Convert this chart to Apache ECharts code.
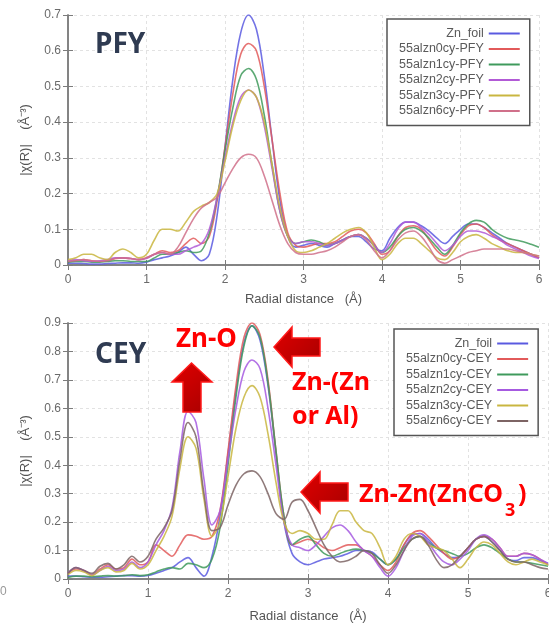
<!DOCTYPE html>
<html>
<head>
<meta charset="utf-8">
<title>Zn K-edge FT-EXAFS PFY / CEY</title>
<script src="https://cdn.jsdelivr.net/npm/echarts@6.0.0/dist/echarts.min.js"></script>
<style>
  html, body { margin: 0; padding: 0; background: #fff; }
  #chart { width: 549px; height: 628px; }
</style>
</head>
<body>
<div id="chart"></div>
<script>
// x grid, Radial distance (Å)
var radialDistance = [
  0.0, 0.1, 0.2, 0.3, 0.4, 0.5, 0.6, 0.7, 0.8, 0.9,
  1.0, 1.1, 1.2, 1.3, 1.4, 1.5, 1.6, 1.7, 1.8, 1.9,
  2.0, 2.1, 2.2, 2.3, 2.4, 2.5, 2.6, 2.7, 2.8, 2.9,
  3.0, 3.1, 3.2, 3.3, 3.4, 3.5, 3.6, 3.7, 3.8, 3.9,
  4.0, 4.1, 4.2, 4.3, 4.4, 4.5, 4.6, 4.7, 4.8, 4.9,
  5.0, 5.1, 5.2, 5.3, 5.4, 5.5, 5.6, 5.7, 5.8, 5.9,
  6.0
];

// PFY panel |χ(R)|
var pfyZnFoil = [
  0.005, 0.005, 0.004, 0.003, 0.003, 0.004, 0.005, 0.006, 0.006, 0.005,
  0.008, 0.015, 0.02, 0.025, 0.035, 0.05, 0.03, 0.012, 0.03, 0.14,
  0.33, 0.52, 0.65, 0.70, 0.66, 0.53, 0.35, 0.18, 0.08, 0.05,
  0.055, 0.06, 0.055, 0.05, 0.06, 0.07, 0.08, 0.08, 0.065, 0.045,
  0.04, 0.075, 0.105, 0.12, 0.12, 0.11, 0.095, 0.075, 0.06, 0.08,
  0.1, 0.115, 0.115, 0.105, 0.09, 0.075, 0.06, 0.05, 0.04, 0.03,
  0.02
];
var pfy0cy = [
  0.01, 0.012, 0.015, 0.012, 0.01, 0.012, 0.018, 0.02, 0.018, 0.015,
  0.02, 0.03, 0.04, 0.035, 0.04, 0.06, 0.075, 0.06, 0.08, 0.18,
  0.33, 0.48, 0.59, 0.62, 0.60, 0.50, 0.35, 0.20, 0.09, 0.055,
  0.05, 0.055, 0.06, 0.06, 0.065, 0.08, 0.095, 0.10, 0.09, 0.06,
  0.03, 0.04, 0.08, 0.105, 0.11, 0.10, 0.07, 0.04, 0.025, 0.05,
  0.085, 0.11, 0.115, 0.105, 0.085, 0.07, 0.06, 0.05, 0.04, 0.03,
  0.02
];
var pfy1cy = [
  0.008, 0.01, 0.01, 0.008, 0.008, 0.01, 0.012, 0.012, 0.01, 0.01,
  0.01, 0.02, 0.03, 0.03, 0.035, 0.04, 0.035, 0.04, 0.09, 0.19,
  0.32, 0.44, 0.53, 0.55, 0.52, 0.42, 0.28, 0.15, 0.08, 0.06,
  0.065, 0.07, 0.065, 0.055, 0.06, 0.07, 0.08, 0.085, 0.075, 0.055,
  0.035, 0.05, 0.08, 0.10, 0.105, 0.095, 0.075, 0.05, 0.03, 0.055,
  0.09, 0.115, 0.125, 0.12, 0.10, 0.085, 0.075, 0.07, 0.065, 0.058,
  0.05
];
var pfy2cy = [
  0.012, 0.015, 0.012, 0.01, 0.012, 0.015, 0.02, 0.02, 0.018, 0.015,
  0.018, 0.03, 0.035, 0.03, 0.03, 0.04, 0.05, 0.06, 0.10, 0.19,
  0.30, 0.40, 0.47, 0.49, 0.47, 0.39, 0.27, 0.15, 0.08, 0.06,
  0.065, 0.065, 0.06, 0.055, 0.06, 0.07, 0.08, 0.085, 0.075, 0.055,
  0.035, 0.06, 0.10, 0.12, 0.12, 0.105, 0.085, 0.06, 0.04, 0.055,
  0.08, 0.095, 0.095, 0.09, 0.08, 0.07, 0.055, 0.045, 0.035, 0.025,
  0.018
];
var pfy3cy = [
  0.015, 0.02, 0.03, 0.03, 0.02, 0.015, 0.035, 0.045, 0.035, 0.02,
  0.03, 0.07, 0.10, 0.10, 0.095, 0.12, 0.15, 0.165, 0.175, 0.20,
  0.29, 0.39, 0.46, 0.49, 0.47, 0.40, 0.28, 0.16, 0.08, 0.04,
  0.035, 0.04, 0.05, 0.06, 0.075, 0.09, 0.10, 0.105, 0.09, 0.05,
  0.015, 0.03, 0.06, 0.075, 0.075, 0.06, 0.04, 0.02, 0.015, 0.035,
  0.065, 0.08, 0.085, 0.075, 0.06, 0.05, 0.04, 0.035, 0.035, 0.03,
  0.025
];
var pfy6cy = [
  0.01, 0.012, 0.015, 0.012, 0.01, 0.012, 0.018, 0.02, 0.018, 0.015,
  0.02, 0.03, 0.035, 0.03, 0.05, 0.09, 0.13, 0.16, 0.175, 0.19,
  0.23, 0.27, 0.30, 0.31, 0.30, 0.25, 0.18, 0.11, 0.06, 0.035,
  0.03, 0.03, 0.035, 0.04, 0.05, 0.065, 0.08, 0.085, 0.07, 0.04,
  0.02, 0.04, 0.07, 0.09, 0.095, 0.08, 0.05, 0.015, 0.005, 0.015,
  0.025, 0.035, 0.04, 0.045, 0.045, 0.045, 0.045, 0.04, 0.035, 0.03,
  0.025
];

// CEY panel |χ(R)|
var ceyZnFoil = [
  0.01, 0.01, 0.008, 0.006, 0.006, 0.008, 0.01, 0.012, 0.012, 0.01,
  0.012, 0.02, 0.03, 0.04, 0.06, 0.075, 0.04, 0.01, 0.08, 0.22,
  0.44, 0.66, 0.83, 0.89, 0.84, 0.68, 0.44, 0.20, 0.09, 0.06,
  0.05, 0.06, 0.07, 0.075, 0.08, 0.09, 0.10, 0.10, 0.095, 0.07,
  0.05, 0.07, 0.12, 0.155, 0.16, 0.14, 0.11, 0.09, 0.075, 0.08,
  0.11, 0.14, 0.15, 0.13, 0.10, 0.07, 0.065, 0.075, 0.075, 0.065,
  0.055
];
var cey0cy = [
  0.02, 0.035, 0.03, 0.015, 0.035, 0.05, 0.035, 0.04, 0.07, 0.05,
  0.06, 0.12, 0.10, 0.08, 0.12, 0.155, 0.15, 0.14, 0.15, 0.24,
  0.45, 0.68, 0.85, 0.90, 0.86, 0.70, 0.45, 0.22, 0.12, 0.13,
  0.14, 0.13, 0.11, 0.10, 0.11, 0.12, 0.12, 0.10, 0.08, 0.05,
  0.03, 0.06, 0.12, 0.16, 0.17, 0.15, 0.12, 0.09, 0.07, 0.08,
  0.11, 0.14, 0.15, 0.14, 0.11, 0.08, 0.08, 0.09, 0.085, 0.07,
  0.05
];
var cey1cy = [
  0.005, 0.01, 0.01, 0.008, 0.01, 0.012, 0.01, 0.012, 0.015, 0.012,
  0.015, 0.025, 0.035, 0.04, 0.035, 0.055, 0.05, 0.04, 0.07, 0.18,
  0.40, 0.64, 0.82, 0.89, 0.85, 0.69, 0.45, 0.22, 0.12, 0.14,
  0.15, 0.12, 0.09, 0.08, 0.09, 0.10, 0.105, 0.10, 0.09, 0.07,
  0.05, 0.07, 0.11, 0.14, 0.15, 0.13, 0.11, 0.10, 0.09, 0.08,
  0.09, 0.11, 0.12, 0.11, 0.09, 0.07, 0.06, 0.06, 0.055, 0.05,
  0.045
];
var cey2cy = [
  0.02, 0.04, 0.03, 0.015, 0.03, 0.045, 0.03, 0.035, 0.06, 0.04,
  0.06, 0.12, 0.17, 0.25, 0.45, 0.59, 0.55, 0.35, 0.19, 0.24,
  0.42, 0.60, 0.73, 0.77, 0.74, 0.60, 0.40, 0.20, 0.12, 0.11,
  0.10, 0.12, 0.15, 0.18, 0.19, 0.17, 0.13, 0.10, 0.08, 0.04,
  0.01, 0.04, 0.10, 0.15, 0.16, 0.13, 0.09, 0.06, 0.05, 0.07,
  0.10, 0.14, 0.155, 0.14, 0.11, 0.08, 0.08, 0.09, 0.085, 0.07,
  0.055
];
var cey3cy = [
  0.015, 0.03, 0.025, 0.012, 0.03, 0.04, 0.025, 0.03, 0.055, 0.035,
  0.05, 0.10, 0.15, 0.22, 0.39, 0.50, 0.46, 0.28, 0.15, 0.20,
  0.36, 0.53, 0.64, 0.68, 0.64, 0.51, 0.34, 0.20, 0.16, 0.17,
  0.16, 0.14, 0.14, 0.19, 0.24, 0.24, 0.20, 0.17, 0.16, 0.11,
  0.05, 0.08, 0.14, 0.16, 0.15, 0.12, 0.11, 0.10, 0.07, 0.04,
  0.07, 0.11, 0.13, 0.12, 0.09, 0.06, 0.05, 0.06, 0.07, 0.06,
  0.05
];
var cey6cy = [
  0.02, 0.04, 0.03, 0.02, 0.045, 0.055, 0.035, 0.05, 0.08, 0.06,
  0.08, 0.14, 0.18, 0.24, 0.42, 0.55, 0.50, 0.30, 0.17, 0.18,
  0.26, 0.33, 0.37, 0.38, 0.36, 0.30, 0.23, 0.21, 0.27, 0.28,
  0.24, 0.18, 0.12, 0.08, 0.06, 0.065, 0.08, 0.10, 0.09, 0.05,
  0.02, 0.05, 0.10, 0.14, 0.15, 0.12, 0.07, 0.04, 0.05, 0.08,
  0.11, 0.14, 0.15, 0.13, 0.10, 0.07, 0.06, 0.06, 0.05, 0.04,
  0.035
];

var pfyNames = ['Zn_foil', '55alzn0cy-PFY', '55alzn1cy-PFY', '55alzn2cy-PFY', '55alzn3cy-PFY', '55alzn6cy-PFY'];
var ceyNames = ['Zn_foil', '55alzn0cy-CEY', '55alzn1cy-CEY', '55alzn2cy-CEY', '55alzn3cy-CEY', '55alzn6cy-CEY'];

var pfyColors = ['#5a5ae0', '#e25a5a', '#3f9a5c', '#b25ad6', '#c9b640', '#d0708a'];
var ceyColors = ['#5a5ae0', '#e25a5a', '#3f9a5c', '#a65ae0', '#c9b640', '#7d6464'];

var chart = echarts.init(document.getElementById('chart'), null, { renderer: 'canvas' });

function line(name, values, color, idx) {
  return {
    name: name,
    type: 'line',
    xAxisIndex: idx,
    yAxisIndex: idx,
    data: radialDistance.map(function (x, i) { return [x, values[i]]; }),
    smooth: 0.35,
    symbol: 'none',
    showSymbol: false,
    lineStyle: { color: color, width: 1.6, opacity: 0.85 },
    itemStyle: { color: color },
    emphasis: { disabled: true }
  };
}

var frame = { show: true, lineStyle: { color: '#7c7c7c', width: 1.5 } };
var tick = { show: true, inside: true, length: 5, lineStyle: { color: '#7c7c7c' } };
var labelStyle = { color: '#6a6a6a', fontSize: 12, fontFamily: 'Liberation Sans', showMinLabel: true, showMaxLabel: true };
var grid = { show: true, lineStyle: { color: '#e2e2e2', type: [3, 3] } };

function xAxisPair(gridIndex, gap) {
  return [{
    type: 'value', gridIndex: gridIndex, position: 'bottom', min: 0, max: 6, interval: 1,
    axisLine: frame, axisTick: tick, splitLine: grid,
    axisLabel: Object.assign({ margin: 9 }, labelStyle),
    name: 'Radial distance   (\u00c5)', nameLocation: 'middle', nameGap: gap,
    nameTextStyle: { color: '#555', fontSize: 13, fontFamily: 'Liberation Sans' }
  }, {
    type: 'value', gridIndex: gridIndex, position: 'top', min: 0, max: 6, interval: 1,
    axisLine: frame, axisTick: tick, splitLine: { show: false }, axisLabel: { show: false }
  }];
}
function yAxisPair(gridIndex, max) {
  return [{
    type: 'value', gridIndex: gridIndex, position: 'left', min: 0, max: max, interval: 0.1,
    axisLine: frame, axisTick: tick, splitLine: grid,
    axisLabel: Object.assign({ margin: 7 }, labelStyle),
    name: '|\u03c7(R)|    (\u00c5\u207b\u00b3)', nameLocation: 'middle', nameGap: 36, nameRotate: 90,
    nameTextStyle: { color: '#555', fontSize: 13, fontFamily: 'Liberation Sans' }
  }, {
    type: 'value', gridIndex: gridIndex, position: 'right', min: 0, max: max, interval: 0.1,
    axisLine: frame, axisTick: tick, splitLine: { show: false }, axisLabel: { show: false }
  }];
}

var xs = xAxisPair(0, 28).concat(xAxisPair(1, 31));
var ys = yAxisPair(0, 0.7).concat(yAxisPair(1, 0.9));
// series use axes 0 (top panel) and 2 (bottom panel)
var pfyData = [pfyZnFoil, pfy0cy, pfy1cy, pfy2cy, pfy3cy, pfy6cy];
var ceyData = [ceyZnFoil, cey0cy, cey1cy, cey2cy, cey3cy, cey6cy];
var series = [];
pfyNames.forEach(function (n, i) { series.push(line(n, pfyData[i], pfyColors[i], 0)); });
ceyNames.forEach(function (n, i) { series.push(line(n, ceyData[i], ceyColors[i], 2)); });

// legend: plain short line as icon, text right-aligned left of it
var legendBase = {
  orient: 'vertical', align: 'right', selectedMode: false,
  icon: 'rect', itemWidth: 31, itemHeight: 2, itemGap: 2.5,
  padding: [8, 10, 8, 12],
  borderColor: '#555', borderWidth: 1.5, backgroundColor: '#fff',
  textStyle: { fontSize: 12.5, color: '#5a5a5a', fontFamily: 'Liberation Sans', lineHeight: 13 }
};

function label(txt, x, y, size, color) {
  return {
    type: 'text', z: 100,
    style: {
      text: txt, x: x, y: y, fill: color || '#ff0000',
      font: 'bold ' + size + 'px "Noto Sans"',
      verticalAlign: 'middle', align: 'left'
    }
  };
}
var arrowFill = {
  type: 'linear', x: 0, y: 0, x2: 1, y2: 1,
  colorStops: [{ offset: 0, color: '#e00000' }, { offset: 1, color: '#a80000' }]
};
function arrow(pts) {
  return {
    type: 'polygon', z: 100,
    shape: { points: pts },
    style: { fill: arrowFill, stroke: '#ff1a1a', lineWidth: 1.5 }
  };
}

var option = {
  backgroundColor: '#fff',
  animation: false,
  grid: [
    { left: 68, top: 15, width: 471, height: 250, outerBoundsMode: 'none' },
    { left: 68, top: 323, width: 480, height: 256, outerBoundsMode: 'none' }
  ],
  xAxis: xs,
  yAxis: ys,
  legend: [
    Object.assign({}, legendBase, { data: pfyNames, left: 387, top: 19 }),
    Object.assign({}, legendBase, { data: ceyNames, left: 394, top: 329 })
  ],
  series: series,
  graphic: [
    label('PFY', 95, 45, 28, '#2f3b52'),
    label('CEY', 95, 355, 28, '#2f3b52'),
    label('Zn-O', 176, 340, 26),
    label('Zn-(Zn', 292, 383, 25),
    label('or Al)', 292, 417, 25),
    label('Zn-Zn(ZnCO', 359, 495, 25),
    label('3', 505, 511, 18),
    label(')', 518, 495, 25),
    arrow([[191.5, 363], [212, 382], [201, 382], [201, 412], [183, 412], [183, 382], [172, 382]]),
    arrow([[274, 347], [292, 327], [292, 338], [320, 338], [320, 356], [292, 356], [292, 367]]),
    arrow([[301, 492], [320, 472], [320, 483], [348, 483], [348, 501], [320, 501], [320, 513]]),
    { type: 'text', style: { text: '0', x: 0, y: 592, fill: '#999', font: '12px "Liberation Sans"', verticalAlign: 'middle' } }
  ]
};

chart.setOption(option);
</script>
</body>
</html>
